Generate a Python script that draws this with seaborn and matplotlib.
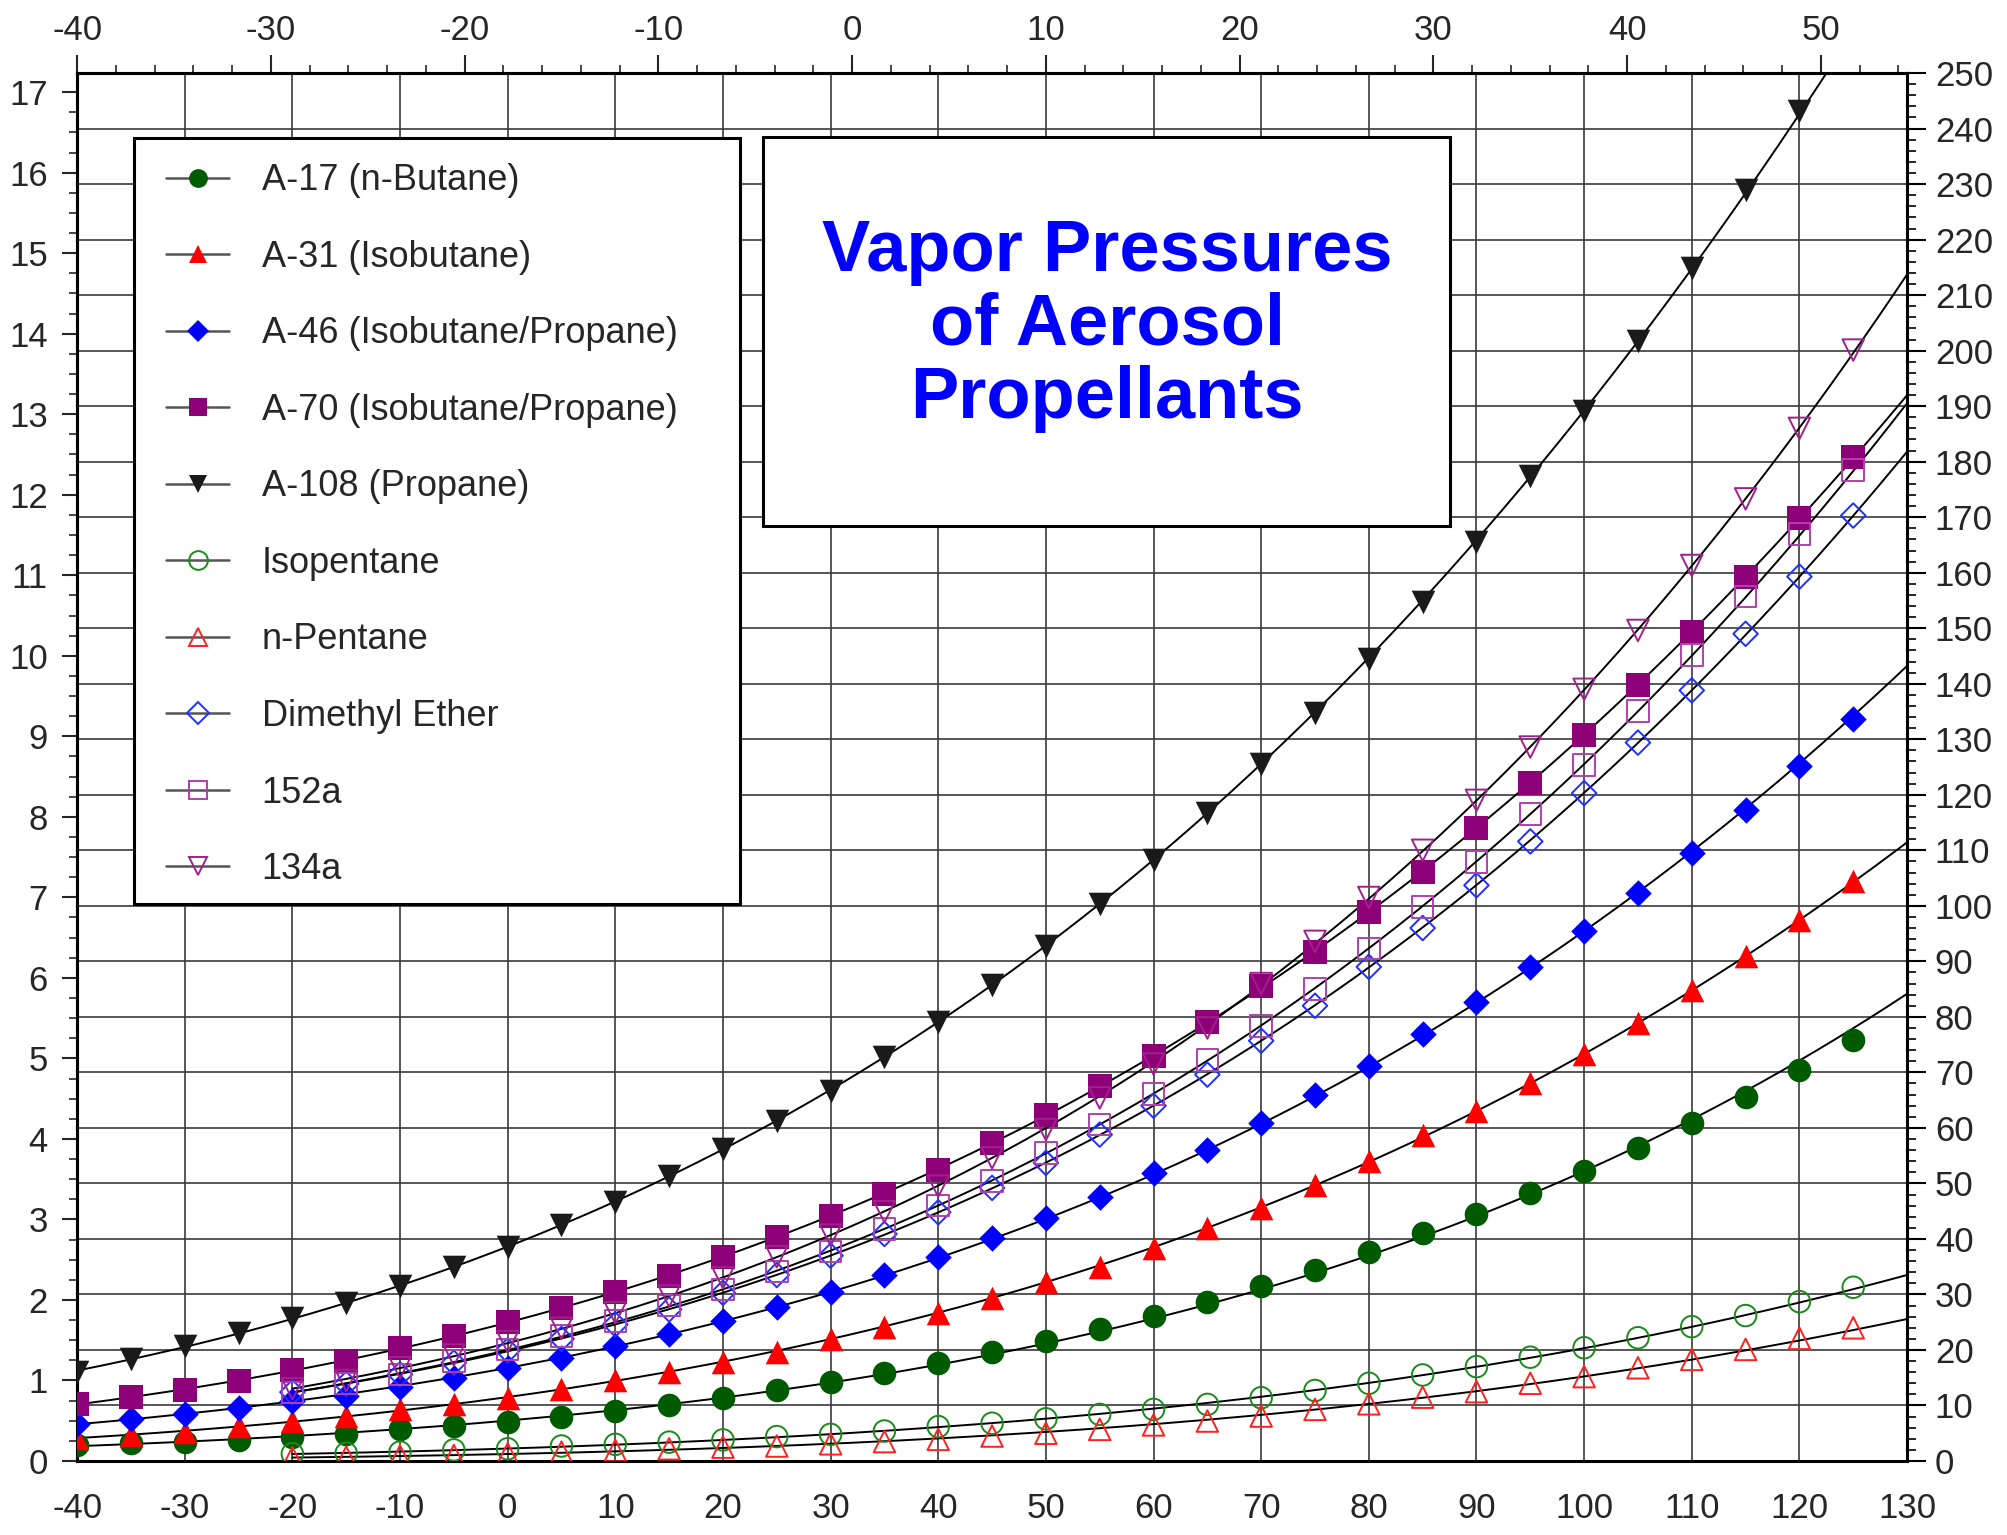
import numpy as np
import matplotlib
matplotlib.use("Agg")
import matplotlib.pyplot as plt
import seaborn as sns
from matplotlib.lines import Line2D
from matplotlib.patches import Rectangle
from matplotlib.ticker import MultipleLocator

# -----------------------------
# Data: vapor pressure (psia) vs temperature (deg F)
# -----------------------------
temps_a = list(range(-40, 130, 5))      # A-17, A-31, A-46, A-70
temps_108 = list(range(-40, 125, 5))    # A-108
temps_b = list(range(-20, 130, 5))      # the rest

a17 = [2.9, 3.2, 3.4, 3.8, 4.4, 4.9, 5.7, 6.3, 7.0, 8.0, 9.0, 10.1, 11.4, 12.8,
       14.2, 15.8, 17.7, 19.6, 21.6, 23.8, 26.1, 28.6, 31.5, 34.4, 37.6, 41.0,
       44.5, 48.2, 52.2, 56.4, 60.8, 65.5, 70.5, 75.8]
a31 = [4.1, 4.7, 5.3, 6.3, 7.2, 8.1, 9.3, 10.3, 11.4, 13.0, 14.6, 16.0, 17.8,
       19.7, 21.9, 24.1, 26.6, 29.3, 32.2, 35.0, 38.3, 41.9, 45.6, 49.7, 54.1,
       58.7, 63.1, 68.1, 73.4, 78.9, 84.8, 91.0, 97.4, 104.5]
a46 = [6.7, 7.6, 8.4, 9.6, 10.8, 11.8, 13.3, 15.0, 16.8, 18.6, 20.7, 22.8, 25.2,
       27.8, 30.4, 33.5, 36.7, 40.1, 43.7, 47.5, 51.9, 56.1, 60.9, 65.9, 71.2,
       76.9, 82.6, 88.9, 95.4, 102.4, 109.6, 117.2, 125.2, 133.6]
a70 = [10.2, 11.6, 12.8, 14.4, 16.4, 18.1, 20.4, 22.6, 25.0, 27.6, 30.4, 33.4,
       36.8, 40.4, 44.2, 48.1, 52.5, 57.3, 62.3, 67.5, 73.0, 79.0, 85.5, 91.7,
       98.8, 106.1, 114.0, 122.1, 130.8, 139.8, 149.3, 159.3, 169.9, 180.8]
a108 = [16.1, 18.3, 20.7, 23.0, 25.8, 28.5, 31.6, 35.0, 38.6, 42.5, 46.7, 51.3,
        56.2, 61.3, 66.7, 72.7, 79.1, 85.8, 92.8, 100.4, 108.3, 116.7, 125.5,
        134.7, 144.5, 154.8, 165.6, 177.4, 189.2, 201.7, 214.8, 228.9, 243.2]
isopentane = [1.3, 1.4, 1.6, 2.0, 2.2, 2.7, 3.0, 3.4, 3.8, 4.4, 4.8, 5.4, 6.2,
              6.8, 7.6, 8.4, 9.3, 10.2, 11.4, 12.7, 14.0, 15.5, 17.0, 18.7,
              20.4, 22.2, 24.2, 26.2, 28.7, 31.3]
n_pentane = [0.6, 0.7, 0.9, 1.0, 1.3, 1.6, 1.9, 2.2, 2.5, 2.7, 3.1, 3.5, 3.9,
             4.5, 5.0, 5.7, 6.5, 7.2, 8.1, 9.3, 10.3, 11.5, 12.5, 14.0, 15.2,
             16.8, 18.3, 20.1, 22.1, 24.0]
dme = [12.4, 13.9, 15.6, 17.7, 19.9, 22.0, 24.6, 27.3, 30.3, 33.5, 37.0, 40.9,
       44.8, 49.2, 53.7, 58.8, 64.0, 69.6, 75.7, 82.0, 89.0, 96.0, 103.7, 111.6,
       120.3, 129.4, 138.8, 149.0, 159.3, 170.3]
hfc152a = [12.3, 14.0, 15.6, 18.0, 20.1, 22.5, 25.2, 28.0, 30.9, 34.1, 37.7,
           41.8, 46.0, 50.4, 55.5, 60.6, 66.1, 72.2, 78.4, 85.0, 92.3, 99.8,
           107.9, 116.5, 125.4, 135.1, 145.2, 155.7, 167.0, 178.5]
hfc134a = [13.0, 14.5, 16.8, 19.1, 21.5, 23.9, 26.7, 29.7, 33.0, 36.8, 40.7,
           44.9, 49.5, 54.6, 59.7, 65.4, 71.5, 78.0, 86.0, 93.6, 101.5, 110.0,
           119.0, 128.6, 139.0, 149.6, 161.3, 173.3, 186.0, 200.1]

# name, temps, values, marker, color, filled
series = [
    ("A-17 (n-Butane)", temps_a, a17, "o", "#005a00", True),
    ("A-31 (Isobutane)", temps_a, a31, "^", "#ff0000", True),
    ("A-46 (Isobutane/Propane)", temps_a, a46, "D", "#0000ff", True),
    ("A-70 (Isobutane/Propane)", temps_a, a70, "s", "#8e0078", True),
    ("A-108 (Propane)", temps_108, a108, "v", "#1a1a1a", True),
    ("Isopentane", temps_b, isopentane, "o", "#1a8a1a", False),
    ("n-Pentane", temps_b, n_pentane, "^", "#ff2020", False),
    ("Dimethyl Ether", temps_b, dme, "D", "#2030ff", False),
    ("152a", temps_b, hfc152a, "s", "#b040b0", False),
    ("134a", temps_b, hfc134a, "v", "#a0208c", False),
]

PSI_PER_BAR = 14.5038

# -----------------------------
# Figure
# -----------------------------
sns.set_style("white")
plt.rcParams["font.family"] = ["Liberation Sans", "DejaVu Sans"]
plt.rcParams["axes.unicode_minus"] = False

fig = plt.figure(figsize=(20.07, 15.35), dpi=100)
ax = fig.add_axes([0.0384, 0.0482, 0.9118, 0.9042])

for name, t, p, mk, col, filled in series:
    t = np.array(t, dtype=float)
    p = np.array(p, dtype=float)
    # smooth curve: ln(P) fitted against 1/T(abs), like the original chart's fit
    coef = np.polyfit(1.0 / (t + 459.67), np.log(p), 2)
    tt = np.linspace(t.min(), 130, 400)
    pp = np.exp(np.polyval(coef, 1.0 / (tt + 459.67)))
    sns.lineplot(x=tt, y=pp, color="black", lw=1.4, ax=ax, zorder=4,
                 sort=False, estimator=None)
    if filled:
        ms = 17 if mk != "D" else 13.5
        sns.scatterplot(x=t, y=p, marker=mk, s=ms ** 2, color=col,
                        edgecolor=col, linewidth=0, ax=ax, zorder=5)
    else:
        ms = 15.5 if mk != "D" else 12.5
        sns.scatterplot(x=t, y=p, marker=mk, s=ms ** 2, color=col,
                        facecolor="none", edgecolor=col, linewidth=1.4,
                        ax=ax, zorder=5)

ax.set_xlim(-40, 130)
ax.set_ylim(0, 250)
ax.set_xlabel("")
ax.set_ylabel("")

# right axis: psia
ax.yaxis.tick_right()
ax.yaxis.set_major_locator(MultipleLocator(10))
ax.yaxis.set_minor_locator(MultipleLocator(2))
ax.xaxis.set_major_locator(MultipleLocator(10))
ax.xaxis.set_minor_locator(MultipleLocator(2))
ax.tick_params(axis="both", which="major", direction="out", length=14,
               width=1.5, labelsize=25, color="black")
ax.tick_params(axis="both", which="minor", direction="out", length=6.5,
               width=1.2, color="black")
ax.tick_params(axis="x", pad=8)
ax.tick_params(axis="y", pad=6)

ax.grid(True, which="major", color="#3a3a3a", lw=1.2, zorder=0)
ax.set_axisbelow(True)
for sp in ax.spines.values():
    sp.set_linewidth(2.2)
    sp.set_color("black")

# left axis: bar
sec_y = ax.secondary_yaxis("left", functions=(lambda v: v / PSI_PER_BAR,
                                             lambda v: v * PSI_PER_BAR))
sec_y.yaxis.set_major_locator(MultipleLocator(1))
sec_y.yaxis.set_minor_locator(MultipleLocator(0.25))
sec_y.tick_params(which="major", direction="out", length=11, width=1.5,
                  labelsize=25, pad=10)
sec_y.tick_params(which="minor", direction="out", length=5.5, width=1.2)
sec_y.spines["left"].set_linewidth(2.2)

# top axis: deg C
sec_x = ax.secondary_xaxis("top", functions=(lambda f: (f - 32) * 5 / 9,
                                            lambda c: c * 9 / 5 + 32))
sec_x.xaxis.set_major_locator(MultipleLocator(10))
sec_x.xaxis.set_minor_locator(MultipleLocator(2))
sec_x.tick_params(which="major", direction="out", length=13, width=1.5,
                  labelsize=25, pad=6)
sec_x.tick_params(which="minor", direction="out", length=6, width=1.2)
sec_x.spines["top"].set_linewidth(2.2)

# legend box
ax.add_patch(Rectangle((0.031, 0.401), 0.331, 0.552, transform=ax.transAxes,
                       facecolor="white", edgecolor="black", lw=2.2, zorder=3))
handles = []
for name, t, p, mk, col, filled in series:
    ms = 13.5 if mk != "D" else 11
    handles.append(Line2D([0], [0], color="#555555", lw=1.8, marker=mk,
                          markersize=ms, markerfacecolor=col if filled else "none",
                          markeredgecolor=col, markeredgewidth=1.4 if not filled else 0))
leg = ax.legend(handles, [s[0] for s in series], loc="upper left",
                bbox_to_anchor=(0.0486, 0.935), borderaxespad=0, borderpad=0,
                frameon=False, fontsize=26, labelspacing=1.15,
                handlelength=1.75, handletextpad=0.9)
leg.set_zorder(6)

# title box
ax.add_patch(Rectangle((0.375, 0.674), 0.375, 0.280, transform=ax.transAxes,
                       facecolor="white", edgecolor="black", lw=2.2, zorder=3))
ax.text(0.563, 0.818, "Vapor Pressures\nof Aerosol\nPropellants",
        transform=ax.transAxes, ha="center", va="center", ma="center",
        fontsize=52, fontweight="bold", color="#0000ff", linespacing=1.1,
        zorder=6)

fig.savefig("out.png", dpi=100)
